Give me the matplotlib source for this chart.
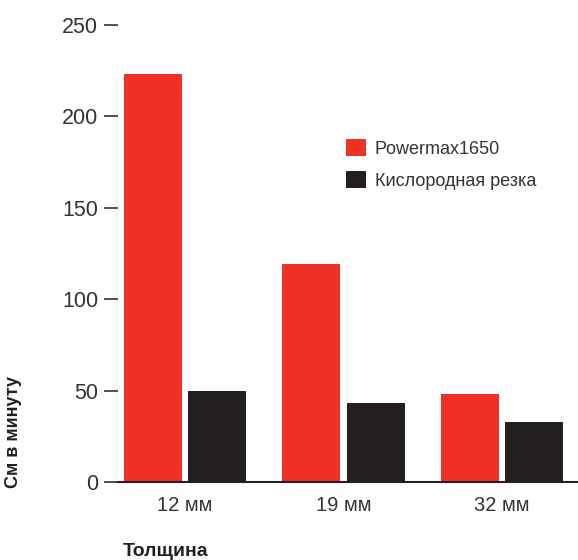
import numpy as np
import matplotlib
matplotlib.use('Agg')
import matplotlib.pyplot as plt

plt.rcParams['font.family'] = ['Liberation Sans', 'DejaVu Sans']

# data
thickness = ['12 мм', '19 мм', '32 мм']
powermax = [223, 119, 48]
oxyfuel = [50, 43, 33]
yticks = [0, 50, 100, 150, 200, 250]

red = '#ee3124'
black = '#231f20'
grey = '#333333'

fig = plt.figure(figsize=(5.78, 5.60), dpi=100)
ax = fig.add_axes([118 / 578, 78 / 560, 460 / 578, 457 / 560])

x = np.arange(len(thickness))
w = 0.366
off = 0.202
ax.bar(x - off, powermax, w, color=red, label='Powermax1650')
ax.bar(x + off, oxyfuel, w, color=black, label='Кислородная резка')

ax.set_xlim(-0.4227, 2.4795)
ax.set_ylim(0, 250)
ax.set_xticks(x)
ax.set_xticklabels(thickness)
ax.set_yticks(yticks)
ax.set_yticklabels([str(v) for v in yticks])

for s in ['left', 'top', 'right']:
    ax.spines[s].set_visible(False)
ax.spines['bottom'].set_linewidth(1.5)
ax.spines['bottom'].set_color(black)

ax.tick_params(axis='y', length=10, width=1.1, color=black, pad=4.3,
               labelsize=15.5, labelcolor=grey)
ax.tick_params(axis='x', length=0, pad=10, labelsize=14.5, labelcolor=grey)

leg = ax.legend(loc='upper left', bbox_to_anchor=(346 / 578, 1 - 139 / 560),
                bbox_transform=fig.transFigure, frameon=False, fontsize=13,
                handlelength=1.1, handleheight=1.1, handletextpad=0.5,
                labelspacing=0.72, borderpad=0, borderaxespad=0)
for t in leg.get_texts():
    t.set_color(grey)

fig.text(123 / 578, 1 - 551 / 560, 'Толщина', fontsize=14, fontweight='bold',
         color=black, ha='left', va='center')
fig.text(14 / 578, 1 - 488 / 560, 'См в минуту', fontsize=13, fontweight='bold',
         color=black, rotation=90, ha='center', va='bottom')

fig.savefig('out.png', dpi=100)
